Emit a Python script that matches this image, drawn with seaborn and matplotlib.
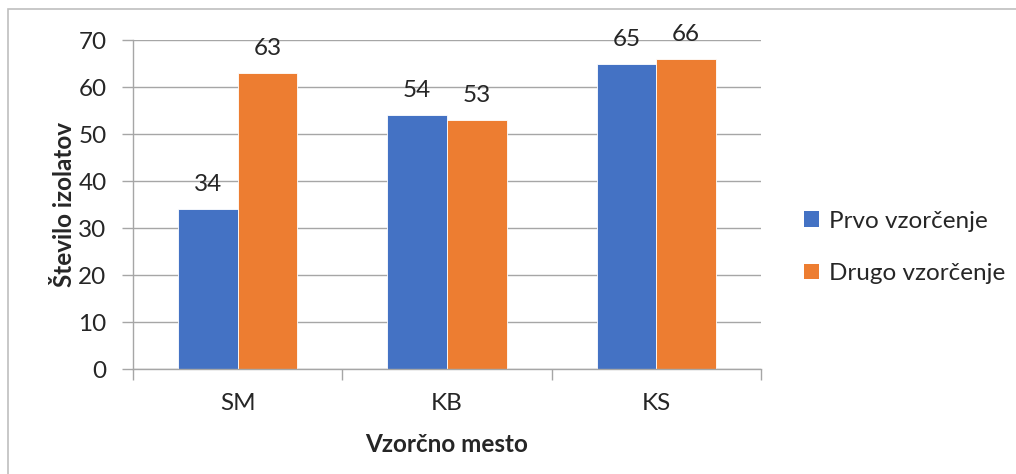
import matplotlib
matplotlib.use("Agg")
import matplotlib.pyplot as plt
from matplotlib.patches import Rectangle, Patch
import seaborn as sns
import pandas as pd

sites = ["SM", "KB", "KS"]
series = ["Prvo vzorčenje", "Drugo vzorčenje"]
first_sampling = [34, 54, 65]
second_sampling = [63, 53, 66]
y_ticks = [0, 10, 20, 30, 40, 50, 60, 70]

df = pd.DataFrame({
    "site": sites * 2,
    "series": [series[0]] * 3 + [series[1]] * 3,
    "value": first_sampling + second_sampling,
})

sns.set_style("white")
plt.rcParams["font.family"] = ["Lato", "DejaVu Sans"]

colors = ["#4472C4", "#ED7D31"]
grid_c = "#A6A6A6"
fs = 17.5

fig = plt.figure(figsize=(10.16, 4.74), dpi=100)
ax = fig.add_axes([0.1309, 0.2215, 0.749 - 0.1309, 0.9156 - 0.2215])

sns.barplot(data=df, x="site", y="value", hue="series", order=sites,
            hue_order=series, palette=colors, width=0.57, ax=ax,
            edgecolor="white", linewidth=0.6, saturation=1, legend=False)

ax.set_ylim(0, 70)
ax.set_xlim(-0.5, 2.5)
ax.set_yticks(y_ticks)
ax.set_yticklabels([str(v) for v in y_ticks], fontsize=fs)
ax.set_xticks(range(len(sites)))
ax.set_xticklabels(sites, fontsize=fs)
ax.tick_params(axis="x", length=0, pad=17)
ax.tick_params(axis="y", length=8, width=1, color=grid_c, pad=11, direction="out", left=True)

# category boundary ticks on the x axis
ax.set_xticks([-0.5, 0.5, 1.5, 2.5], minor=True)
ax.tick_params(axis="x", which="minor", length=8, width=1, color=grid_c, direction="out", bottom=True)

ax.yaxis.grid(True, color=grid_c, linewidth=1)
ax.set_axisbelow(True)
for side in ["top", "right"]:
    ax.spines[side].set_visible(False)
for side in ["left", "bottom"]:
    ax.spines[side].set_color(grid_c)
    ax.spines[side].set_linewidth(1)

for cont in ax.containers:
    ax.bar_label(cont, labels=[f"{int(v)}" for v in cont.datavalues],
                 padding=10, fontsize=fs)

ax.set_xlabel("Vzorčno mesto", fontsize=fs, fontweight="bold", labelpad=14)
ax.set_ylabel("Število izolatov", fontsize=fs, fontweight="bold", labelpad=2)

handles = [Patch(facecolor=c, edgecolor="none") for c in colors]
fig.legend(handles, series, loc="center left", bbox_to_anchor=(0.782, 0.478),
           frameon=False, fontsize=fs, handlelength=0.6, handleheight=0.6,
           handletextpad=0.4, labelspacing=1.3, borderaxespad=0)

# chart area frame
fig.patches.append(Rectangle((8 / 1016, -0.1), 1.2, 1 - 9 / 474 + 0.1,
                             transform=fig.transFigure, fill=False,
                             edgecolor="#BFBFBF", linewidth=1.2))

fig.savefig("out.png", dpi=100)
